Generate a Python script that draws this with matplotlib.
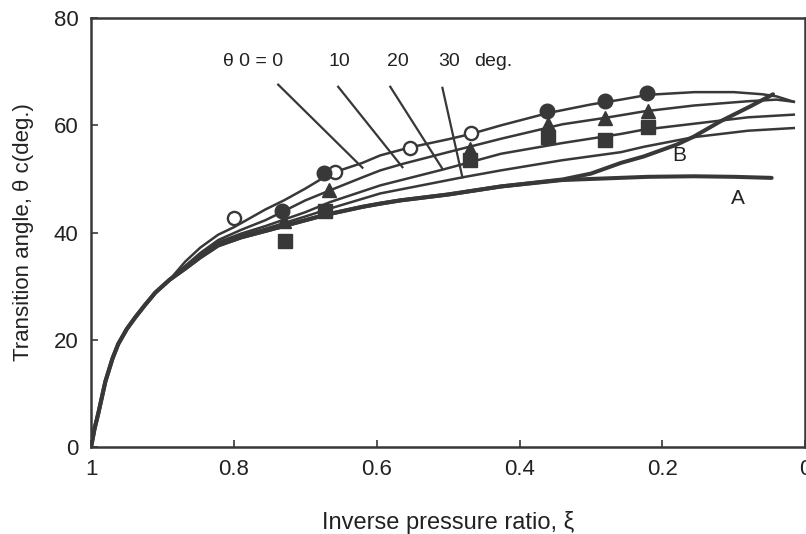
import matplotlib.pyplot as plt

# curves: inverse pressure ratio xi vs transition angle (deg)
xi_start = [1.0, 0.995, 0.99, 0.98, 0.97, 0.962, 0.95, 0.938, 0.925, 0.91, 0.89]
th_start = [0, 3.5, 6.2, 12.2, 16.5, 19.2, 22.0, 24.2, 26.4, 28.8, 31.2]

xi_0 = [0.868, 0.847, 0.822, 0.80, 0.756, 0.73, 0.70, 0.665, 0.62, 0.595, 0.553,
        0.50, 0.468, 0.426, 0.36, 0.30, 0.258, 0.22, 0.155, 0.10, 0.06, 0.04, 0.016]
th_0 = [34.6, 37.2, 39.6, 41.0, 44.3, 46.0, 48.2, 51.0, 53.0, 54.4, 55.9,
        57.4, 58.4, 60.0, 62.3, 63.9, 64.8, 65.7, 66.2, 66.2, 65.8, 65.4, 64.4]

xi_10 = [0.868, 0.847, 0.822, 0.79, 0.756, 0.73, 0.70, 0.665, 0.62, 0.595, 0.564,
         0.50, 0.426, 0.34, 0.28, 0.226, 0.156, 0.08, 0.04, 0.016]
th_10 = [33.8, 36.2, 38.6, 40.5, 42.3, 44.0, 46.0, 47.9, 50.3, 51.6, 52.8,
         55.0, 57.5, 60.2, 61.4, 62.6, 63.7, 64.5, 64.8, 64.4]

xi_20 = [0.868, 0.847, 0.822, 0.79, 0.756, 0.70, 0.665, 0.595, 0.506, 0.426,
         0.34, 0.258, 0.226, 0.156, 0.08, 0.016]
th_20 = [33.6, 35.8, 38.2, 39.8, 41.2, 43.8, 45.7, 48.8, 51.8, 54.7,
         56.7, 58.4, 59.2, 60.3, 61.5, 62.0]

xi_30 = [0.868, 0.847, 0.822, 0.79, 0.756, 0.70, 0.665, 0.595, 0.48, 0.426,
         0.34, 0.258, 0.226, 0.156, 0.08, 0.016]
th_30 = [33.5, 35.6, 38.0, 39.5, 40.7, 43.0, 44.5, 47.3, 50.3, 51.6,
         53.5, 55.0, 56.0, 57.8, 59.0, 59.5]

xi_A = [0.868, 0.847, 0.822, 0.79, 0.756, 0.728, 0.672, 0.62, 0.595, 0.567, 0.50,
        0.426, 0.34, 0.28, 0.22, 0.156, 0.10, 0.047]
th_A = [33.3, 35.4, 37.6, 39.1, 40.3, 41.3, 43.3, 44.8, 45.4, 46.0, 47.1,
        48.6, 49.8, 50.1, 50.4, 50.5, 50.4, 50.2]

xi_B = [0.868, 0.847, 0.822, 0.79, 0.756, 0.728, 0.672, 0.62, 0.595, 0.567, 0.50,
        0.426, 0.34, 0.30, 0.258, 0.226, 0.18, 0.156, 0.118, 0.076, 0.045]
th_B = [33.3, 35.4, 37.6, 39.1, 40.3, 41.3, 43.3, 44.8, 45.4, 46.0, 47.1,
        48.6, 49.9, 51.0, 53.0, 54.2, 56.4, 57.9, 60.8, 63.6, 65.8]

# measured points
xi_open = [0.80, 0.658, 0.553, 0.468]
th_open = [42.8, 51.3, 55.8, 58.6]
xi_circ = [0.732, 0.674, 0.361, 0.281, 0.221]
th_circ = [44.1, 51.2, 62.6, 64.6, 66.0]
xi_tri = [0.73, 0.667, 0.47, 0.36, 0.28, 0.22]
th_tri = [42.2, 48.0, 55.6, 60.2, 61.4, 62.7]
xi_sq = [0.728, 0.672, 0.47, 0.36, 0.28, 0.22]
th_sq = [38.5, 44.1, 53.6, 57.9, 57.2, 59.7]

# theta0 labels and their leader lines
lab_text = ["\u03b8 0 = 0", "10", "20", "30", "deg."]
lab_xi = [0.773, 0.652, 0.571, 0.499, 0.437]
lead_xi0 = [0.738, 0.654, 0.581, 0.508]
lead_th0 = [67.6, 67.2, 67.2, 67.0]
lead_xi1 = [0.620, 0.564, 0.508, 0.480]
lead_th1 = [52.1, 52.2, 51.9, 50.3]

xticks = [1, 0.8, 0.6, 0.4, 0.2, 0]
xtick_labels = ["1", "0.8", "0.6", "0.4", "0.2", "0"]
yticks = [0, 20, 40, 60, 80]

ink = "#383838"
txt = "#222222"
font = "Liberation Sans"

fig = plt.figure(figsize=(8.06, 5.34), dpi=100)
ax = fig.add_axes([0.113, 0.163, 0.886, 0.803])

for xs, ts in [(xi_0, th_0), (xi_10, th_10), (xi_20, th_20), (xi_30, th_30)]:
    ax.plot(xi_start + xs, th_start + ts, color=ink, lw=1.8)
for xs, ts in [(xi_A, th_A), (xi_B, th_B)]:
    ax.plot(xi_start + xs, th_start + ts, color=ink, lw=2.9, solid_capstyle="round")

ax.plot(xi_open, th_open, "o", ms=9.5, mfc="white", mec=ink, mew=1.7)
ax.plot(xi_sq, th_sq, "s", ms=9.5, color=ink)
ax.plot(xi_tri, th_tri, "^", ms=10, color=ink)
ax.plot(xi_circ, th_circ, "o", ms=10.5, color=ink)

for i in range(len(lead_xi0)):
    ax.plot([lead_xi0[i], lead_xi1[i]], [lead_th0[i], lead_th1[i]], color=ink, lw=1.6)
for t, x in zip(lab_text, lab_xi):
    ax.text(x, 72, t, ha="center", va="center", fontsize=14, family=font, color=txt)

ax.text(0.094, 46.4, "A", ha="center", va="center", fontsize=15, family=font, color=txt)
ax.text(0.177, 54.4, "B", ha="center", va="center", fontsize=15, family=font, color=txt)

ax.set_xlim(1, 0)
ax.set_ylim(0, 80)
ax.set_xticks(xticks)
ax.set_xticklabels(xtick_labels, fontsize=16, family=font, color=txt)
ax.set_yticks(yticks)
ax.set_yticklabels([str(v) for v in yticks], fontsize=16, family=font, color=txt)
ax.tick_params(direction="in", length=5, width=1.2, color=ink, pad=9)

for s in ax.spines.values():
    s.set_color(ink)
    s.set_linewidth(1.8)

ax.set_xlabel("Inverse pressure ratio, \u03be", fontsize=17, family=font,
              color=txt, labelpad=22)
ax.set_ylabel("Transition angle, \u03b8 c(deg.)", fontsize=16, family=font,
              color=txt, labelpad=14)

fig.savefig("out.png", dpi=100)
